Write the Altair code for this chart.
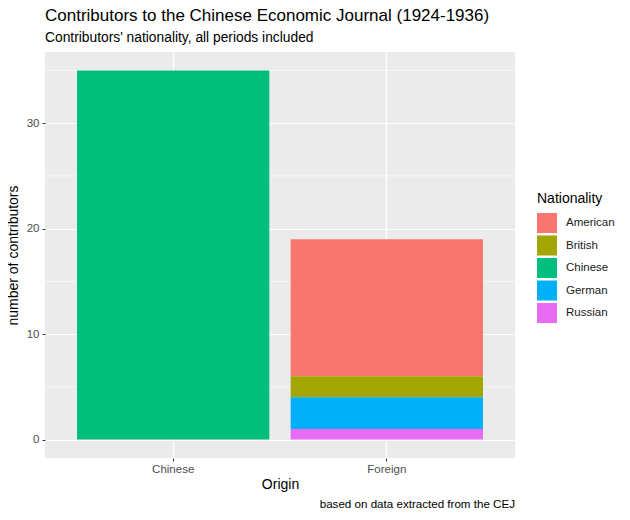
import altair as alt
import pandas as pd

origins = ["Chinese", "Foreign", "Foreign", "Foreign", "Foreign"]
nationalities = ["Chinese", "American", "British", "German", "Russian"]
counts = [35, 13, 2, 3, 1]
stack_rank = [2, 4, 3, 1, 0]

legend_order = ["American", "British", "Chinese", "German", "Russian"]
legend_colors = ["#F8766D", "#A3A500", "#00BF7D", "#00B0F6", "#E76BF3"]
y_ticks = [0, 10, 20, 30]
y_minor = [5, 15, 25, 35]
caption = ["based on data extracted from the CEJ"]

df = pd.DataFrame({"Origin": origins, "Nationality": nationalities,
                   "n": counts, "rank": stack_rank})
minor_df = pd.DataFrame({"v": y_minor})
cap_df = pd.DataFrame({"t": caption})

FONT = "Liberation Sans"
yscale = alt.Scale(domain=[-1.75, 36.75], nice=False, zero=False)

yaxis = alt.Axis(title="number of contributors", values=y_ticks, grid=True,
                 gridColor="white", gridWidth=1.2, domain=False,
                 tickSize=3, tickColor="#333333", labelColor="#4D4D4D",
                 labelFontSize=11.5, labelPadding=3, titleFontSize=14,
                 titleFontWeight="normal", titleColor="black", titlePadding=6,
                 labelFont=FONT, titleFont=FONT)

minor = alt.Chart(minor_df).mark_rule(color="white", strokeWidth=0.6).encode(
    y=alt.Y("v:Q", scale=yscale, axis=yaxis, title="number of contributors")
)

bars = alt.Chart(df).mark_bar(stroke=None).encode(
    x=alt.X("Origin:N", sort=["Chinese", "Foreign"],
            scale=alt.Scale(paddingInner=0.1, paddingOuter=0.15),
            axis=alt.Axis(title="Origin", labelAngle=0, bandPosition=0.5, grid=True,
                          gridColor="white", gridWidth=1.2, domain=False,
                          tickSize=3, tickColor="#333333", labelColor="#4D4D4D",
                          labelFontSize=11.5, labelPadding=2, titleFontSize=14,
                          titleFontWeight="normal", titleColor="black", titlePadding=3,
                          labelFont=FONT, titleFont=FONT)),
    y=alt.Y("sum(n):Q", scale=yscale, axis=yaxis, title="number of contributors"),
    color=alt.Color("Nationality:N",
                    scale=alt.Scale(domain=legend_order, range=legend_colors),
                    legend=alt.Legend(orient="none", legendX=492, legendY=140,
                                      symbolType="square", symbolSize=400,
                                      symbolStrokeWidth=0, symbolOpacity=1,
                                      rowPadding=2.5, labelOffset=9,
                                      labelFontSize=11.5, labelColor="#1A1A1A",
                                      labelFont=FONT, titleFont=FONT,
                                      titleFontSize=14, titleFontWeight="normal",
                                      titleColor="black", titlePadding=7)),
    order=alt.Order("rank:Q", sort="ascending"),
)

cap = alt.Chart(cap_df).mark_text(align="right", baseline="middle", fontSize=11.6,
                                  font=FONT, color="black").encode(
    text="t:N", x=alt.value(470), y=alt.value(453)
)

chart = alt.layer(minor, bars, cap).properties(
    width=470, height=406,
    autosize=alt.AutoSizeParams(type="none"),
    padding={"left": 37, "top": 44, "right": 100, "bottom": 66},
    title=alt.Title("Contributors to the Chinese Economic Journal (1924-1936)",
                    subtitle="Contributors' nationality, all periods included",
                    anchor="start", frame="group", font=FONT, fontSize=17,
                    fontWeight="normal", color="black", subtitleFont=FONT,
                    subtitleFontSize=13.8, subtitleColor="black",
                    subtitlePadding=6, offset=6),
).configure_view(fill="#EBEBEB", strokeWidth=0).configure_axis(labelColor="#4D4D4D")

chart.save("out.html", embed_options={"renderer": "svg", "actions": False})
